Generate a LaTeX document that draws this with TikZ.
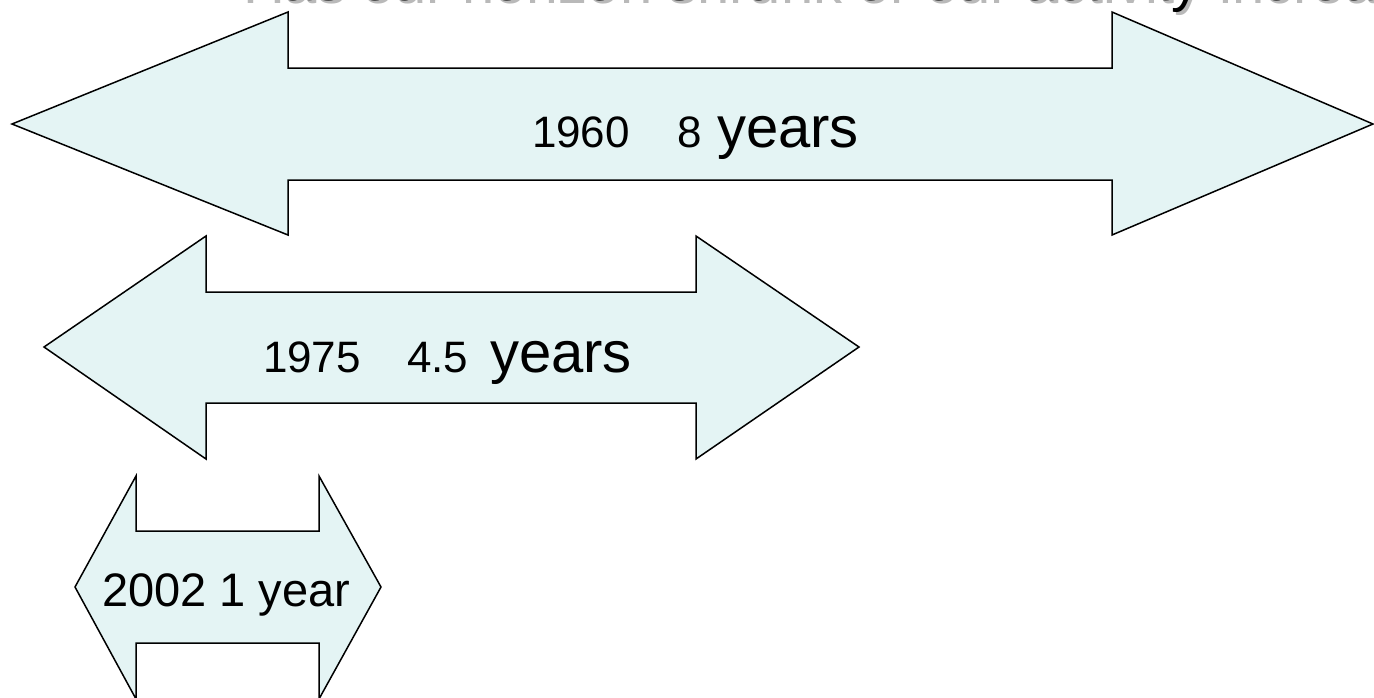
\documentclass[tikz,border=0pt]{standalone}
\usepackage{fontspec}
\setmainfont{Liberation Sans}
\definecolor{arrowfill}{RGB}{228,244,244}
\definecolor{shadowgray}{RGB}{185,185,185}
\tikzset{
  dblarrow/.style={draw=black, fill=arrowfill, line width=1.5pt, line join=miter},
  lbl/.style={anchor=base west, inner sep=0pt, outer sep=0pt, text=black},
}
\newcommand{\fs}[1]{\fontsize{#1}{#1}\selectfont}
\begin{document}
\begin{tikzpicture}[x=1pt, y=-1pt]
\clip (0,0) rectangle (1374,697);
\fill[white] (0,0) rectangle (1374,697);
% clipped title (only its lowest part is in the picture)
\node[lbl, text=shadowgray] (titleshadow) at (243,3) {\fs{58}Has our horizon shrunk or our activity increased};
\node[lbl] (title) at (240,0) {\fs{58}Has our horizon shrunk or our activity increased};
% arrow 1
\draw[dblarrow] (12,124) -- (288,12) -- (288,68) -- (1112,68) -- (1112,12) -- (1373,124)
  -- (1112,235) -- (1112,180) -- (288,180) -- (288,235) -- cycle;
% arrow 2
\draw[dblarrow] (44,347) -- (206,236) -- (206,292) -- (696,292) -- (696,236) -- (859,347)
  -- (696,459) -- (696,403) -- (206,403) -- (206,459) -- cycle;
% arrow 3
\draw[dblarrow] (75,587) -- (136,476) -- (136,531) -- (319,531) -- (319,476) -- (381,587)
  -- (319,699) -- (319,643) -- (136,643) -- (136,699) -- cycle;
% labels
\node[lbl] (y1960) at (532,147) {\fs{44}1960};
\node[lbl] (n8) at (677,147) {\fs{44}8};
\node[lbl] (yrs1) at (717,147) {\fs{58}years};
\node[lbl] (y1975) at (263,372) {\fs{44}1975};
\node[lbl] (n45) at (407,372) {\fs{44}4.5};
\node[lbl] (yrs2) at (490,372) {\fs{58}years};
\node[lbl] (y2002) at (102,606) {\fs{47}2002 1 year};
\end{tikzpicture}
\end{document}
